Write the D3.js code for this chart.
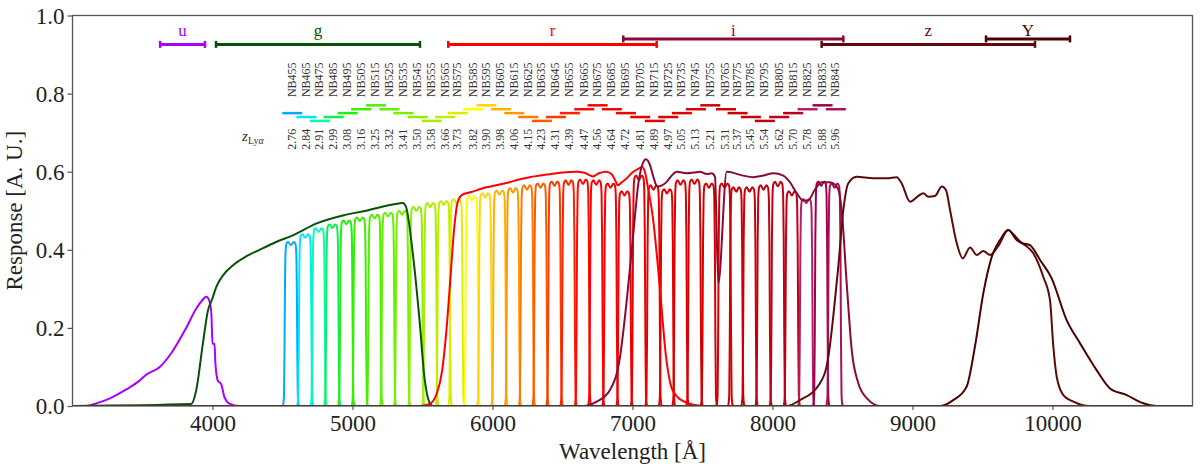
<!DOCTYPE html>
<html><head><meta charset="utf-8">
<script src="https://cdn.jsdelivr.net/npm/d3@7"></script>
<style>body{margin:0;background:#fff} svg{display:block} svg text{font-family:'Liberation Serif','DejaVu Serif',serif !important}</style>
</head><body><svg id="c" width="1200" height="474" font-family="Liberation Serif, DejaVu Serif, serif"></svg>
<script>
const xTicks = [4000,5000,6000,7000,8000,9000,10000];
const yTicks = [0,0.2,0.4,0.6,0.8,1.0];

const nbNames = ["NB455","NB465","NB475","NB485","NB495","NB505","NB515","NB525","NB535","NB545",
  "NB555","NB565","NB575","NB585","NB595","NB605","NB615","NB625","NB635","NB645",
  "NB655","NB665","NB675","NB685","NB695","NB705","NB715","NB725","NB735","NB745",
  "NB755","NB765","NB775","NB785","NB795","NB805","NB815","NB825","NB835","NB845"];
const nbCenter = [4560,4662,4758,4856,4956,5052,5158,5254,5354,5456,
  5556,5652,5742,5852,5948,6050,6146,6246,6343,6443,
  6543,6646,6741,6843,6943,7046,7150,7246,7343,7443,
  7546,7658,7741,7836,7936,8038,8138,8241,8348,8443];
const nbPeak = [0.42,0.44,0.455,0.465,0.475,0.483,0.49,0.495,0.50,0.51,
  0.52,0.525,0.53,0.537,0.545,0.552,0.558,0.565,0.57,0.575,
  0.578,0.58,0.578,0.57,0.55,0.59,0.565,0.555,0.578,0.58,
  0.57,0.57,0.56,0.56,0.565,0.574,0.55,0.53,0.575,0.57];
const nbBarLevel = [0.75,0.74,0.73,0.74,0.75,0.76,0.77,0.76,0.75,0.74,
  0.73,0.74,0.75,0.76,0.77,0.76,0.75,0.74,0.73,0.74,
  0.75,0.76,0.77,0.76,0.75,0.74,0.73,0.74,0.75,0.76,
  0.77,0.76,0.75,0.74,0.73,0.74,0.75,0.76,0.77,0.76];
const nbZ = ["2.76","2.84","2.91","2.99","3.08","3.16","3.25","3.32","3.41","3.50",
  "3.58","3.66","3.73","3.82","3.90","3.98","4.06","4.15","4.23","4.31",
  "4.39","4.47","4.56","4.64","4.72","4.81","4.89","4.97","5.05","5.13",
  "5.21","5.31","5.37","5.45","5.54","5.62","5.70","5.78","5.88","5.96"];
const nbColor = ["#00aaff","#00e5ff","#00ffb0","#10ee55","#22ee11","#3cee00","#4cf000","#60f000","#78ee00","#90ee00",
  "#a8ee00","#c0ee00","#dcee00","#ffff00","#ffd400","#ffb000","#ff9800","#ff7800","#ff5a00","#ff3a00",
  "#ff2000","#ff0a00","#ff0000","#f80000","#f00000","#e80000","#e40000","#e00000","#dc0000","#d80000",
  "#d40000","#d00000","#cc0000","#c80008","#c40010","#c00014","#bc0018","#b0206a","#a00048","#a8105a"];
// shared filter profile (offset in Å from centre, relative response)
const nbProfileOffset = [-60,-55,-50,-46,-42,-38,-32,-20,0,20,32,38,42,46,50,55,60];
const nbProfileShape  = [0,0.01,0.05,0.32,0.75,0.94,0.99,1.0,0.98,1.0,0.99,0.94,0.75,0.32,0.05,0.01,0];

const bandNames = ["u","g","r","i","z","Y"];
const bandColor = ["#a800ff","#075207","#ff0000","#8b0a35","#5e0a0a","#4d0000"];
const bandBarStart = [3626,4025,5684,6934,8351,9525];
const bandBarEnd   = [3946,5482,7173,8506,9875,10125];
const bandBarLevel = [0.926,0.926,0.926,0.94,0.926,0.94];

const uCurve = [[3000,0],[3098,0],[3180,0.008],[3264,0.019],[3387,0.043],[3479,0.065],[3526,0.08],[3621,0.099],[3705,0.135],[3812,0.20],[3883,0.249],[3930,0.272],[3955,0.28],[3979,0.268],[3992,0.235],[4000,0.16],[4014,0.159],[4021,0.108],[4038,0.065],[4062,0.056],[4086,0.022],[4121,0.006],[4193,0],[11000,0]];
const gCurve = [[3000,0],[3848,0.005],[3883,0.039],[3931,0.159],[3967,0.244],[3998,0.274],[4026,0.304],[4074,0.334],[4145,0.36],[4240,0.383],[4336,0.40],[4455,0.42],[4574,0.437],[4740,0.467],[4931,0.488],[5098,0.50],[5288,0.516],[5360,0.52],[5383,0.509],[5431,0.39],[5479,0.219],[5514,0.073],[5550,0.009],[5574,0],[11000,0]];
const rCurve = [[3000,0],[5480,0],[5550,0.005],[5600,0.03],[5640,0.09],[5670,0.19],[5700,0.33],[5725,0.45],[5750,0.52],[5780,0.54],[5850,0.548],[5955,0.56],[6050,0.567],[6121,0.573],[6190,0.58],[6264,0.586],[6340,0.59],[6431,0.595],[6500,0.598],[6598,0.60],[6650,0.598],[6700,0.59],[6717,0.588],[6760,0.596],[6812,0.60],[6850,0.594],[6880,0.575],[6895,0.565],[6920,0.572],[6955,0.582],[7000,0.598],[7040,0.607],[7069,0.612],[7090,0.598],[7110,0.56],[7145,0.484],[7193,0.313],[7240,0.125],[7288,0.039],[7383,0.009],[7500,0],[11000,0]];
const iCurve = [[3000,0],[6650,0],[6744,0.011],[6839,0.041],[6911,0.126],[6959,0.271],[7006,0.442],[7042,0.57],[7073,0.621],[7096,0.632],[7125,0.617],[7149,0.587],[7177,0.562],[7210,0.565],[7244,0.574],[7280,0.59],[7316,0.60],[7387,0.596],[7440,0.598],[7482,0.60],[7530,0.594],[7566,0.596],[7589,0.587],[7613,0.314],[7673,0.60],[7684,0.60],[7720,0.597],[7791,0.59],[7863,0.586],[7934,0.59],[8006,0.596],[8077,0.59],[8125,0.573],[8173,0.545],[8220,0.526],[8256,0.527],[8304,0.555],[8352,0.573],[8400,0.573],[8434,0.57],[8470,0.555],[8494,0.502],[8530,0.314],[8566,0.143],[8613,0.058],[8673,0.02],[8768,0],[11000,0]];
const zCurve = [[3000,0],[8100,0],[8196,0.015],[8339,0.058],[8399,0.126],[8434,0.229],[8470,0.357],[8506,0.502],[8541,0.57],[8601,0.587],[8720,0.583],[8816,0.583],[8887,0.586],[8923,0.570],[8982,0.523],[9042,0.538],[9077,0.545],[9113,0.536],[9161,0.538],[9209,0.562],[9239,0.553],[9268,0.502],[9316,0.417],[9359,0.378],[9411,0.406],[9459,0.387],[9506,0.397],[9554,0.387],[9613,0.41],[9684,0.451],[9744,0.425],[9804,0.412],[9863,0.391],[9934,0.331],[9982,0.271],[10006,0.152],[10030,0.075],[10077,0.028],[10149,0.011],[10268,0],[11000,0]];
const YCurve = [[3000,0],[9200,0],[9291,0.015],[9386,0.049],[9446,0.152],[9506,0.289],[9566,0.382],[9625,0.425],[9684,0.451],[9720,0.44],[9780,0.418],[9839,0.412],[9911,0.374],[9994,0.327],[10101,0.22],[10196,0.161],[10315,0.092],[10411,0.045],[10530,0.028],[10649,0.007],[10745,0],[11000,0]];
const bandCurves = [uCurve,gCurve,rCurve,iCurve,zCurve,YCurve];

const FONT = "Liberation Serif, DejaVu Serif, serif";
const svg = d3.select("#c");
const x = d3.scaleLinear().domain([3000,11000]).range([72.5,1192.5]);
const y = d3.scaleLinear().domain([0,1]).range([406,15.5]);

svg.append("defs").append("clipPath").attr("id","clip")
  .append("rect").attr("x",x(3000)).attr("y",y(1)).attr("width",x(11000)-x(3000)).attr("height",y(0)-y(1));

const line = d3.line().x(d=>x(d[0])).y(d=>y(d[1])).curve(d3.curveMonotoneX);
const plot = svg.append("g").attr("clip-path","url(#clip)");

nbCenter.forEach((c,i)=>{
  const pts = nbProfileOffset.map((o,k)=>[c+o, nbPeak[i]*nbProfileShape[k]]);
  plot.append("path").attr("d",line(pts)).attr("fill","none")
    .attr("stroke",nbColor[i]).attr("stroke-width",2).attr("stroke-linejoin","round");
});
bandCurves.forEach((cv,i)=>{
  plot.append("path").attr("d",line(cv)).attr("fill","none")
    .attr("stroke",bandColor[i]).attr("stroke-width",2).attr("stroke-linejoin","round");
});

bandNames.forEach((n,i)=>{
  const g = svg.append("g").attr("stroke",bandColor[i]).attr("stroke-width",3);
  const yy = y(bandBarLevel[i]);
  g.append("line").attr("x1",x(bandBarStart[i])).attr("x2",x(bandBarEnd[i])).attr("y1",yy).attr("y2",yy);
  [bandBarStart[i],bandBarEnd[i]].forEach(v=>{
    g.append("line").attr("x1",x(v)).attr("x2",x(v)).attr("y1",yy-3.5).attr("y2",yy+3.5).attr("stroke-width",2.5);
  });
  svg.append("text").attr("x",x((bandBarStart[i]+bandBarEnd[i])/2)).attr("y",y(0.948))
    .attr("text-anchor","middle").attr("fill",bandColor[i]).attr("font-family",FONT).style("font-size","17px").text(n);
});

nbCenter.forEach((c,i)=>{
  svg.append("line").attr("x1",x(c-62)).attr("x2",x(c+81)).attr("y1",y(nbBarLevel[i])).attr("y2",y(nbBarLevel[i]))
    .attr("stroke",nbColor[i]).attr("stroke-width",2.5);
  const lx = x(c+6), ly = y(0.791);
  svg.append("text").attr("x",lx).attr("y",ly).attr("transform",`rotate(-90,${lx},${ly})`)
    .attr("dominant-baseline","central").attr("fill","#333").attr("font-family",FONT).style("font-size","12px").text(nbNames[i]);
  const zy = y(0.656);
  svg.append("text").attr("x",lx).attr("y",zy).attr("transform",`rotate(-90,${lx},${zy})`)
    .attr("dominant-baseline","central").attr("fill","#333").attr("font-family",FONT).style("font-size","12px").text(nbZ[i]);
});
const zl = svg.append("text").attr("x",x(4211)).attr("y",y(0.678)).attr("fill","#333").attr("font-family",FONT).style("font-size","15px");
zl.append("tspan").style("font-style","italic").text("z");
zl.append("tspan").attr("dy",3).style("font-size","10px").text("Ly");
zl.append("tspan").style("font-size","10px").style("font-style","italic").text("α");

const gx = svg.append("g").attr("transform",`translate(0,${y(0)})`)
  .call(d3.axisBottom(x).tickValues(xTicks).tickSize(4).tickFormat(d3.format("d")));
gx.attr("font-family",FONT);
gx.select(".domain").remove();
gx.selectAll("line").attr("stroke","#555").attr("stroke-width",1.2);
gx.selectAll("text").attr("y",24.5).attr("dy",0).attr("fill","#222").attr("font-family",FONT).style("font-size","23px");

const gy = svg.append("g").attr("transform",`translate(${x(3000)},0)`)
  .call(d3.axisLeft(y).tickValues(yTicks).tickSize(5).tickPadding(3).tickFormat(d3.format(".1f")));
gy.attr("font-family",FONT);
gy.select(".domain").remove();
gy.selectAll("line").attr("stroke","#555").attr("stroke-width",1.2);
gy.selectAll("text").attr("dy","0.34em").attr("fill","#222").attr("font-family",FONT).style("font-size","23px");

svg.append("rect").attr("x",x(3000)).attr("y",y(1)).attr("width",x(11000)-x(3000)).attr("height",y(0)-y(1))
  .attr("fill","none").attr("stroke","#555").attr("stroke-width",1.3);

svg.append("text").attr("x",(x(3000)+x(11000))/2).attr("y",459).attr("text-anchor","middle")
  .attr("fill","#222").attr("font-family",FONT).style("font-size","23px").text("Wavelength [Å]");
svg.append("text").attr("transform",`translate(22,${(y(0)+y(1))/2}) rotate(-90)`).attr("text-anchor","middle")
  .attr("fill","#222").attr("font-family",FONT).style("font-size","23px").text("Response [A. U.]");
</script></body></html>
